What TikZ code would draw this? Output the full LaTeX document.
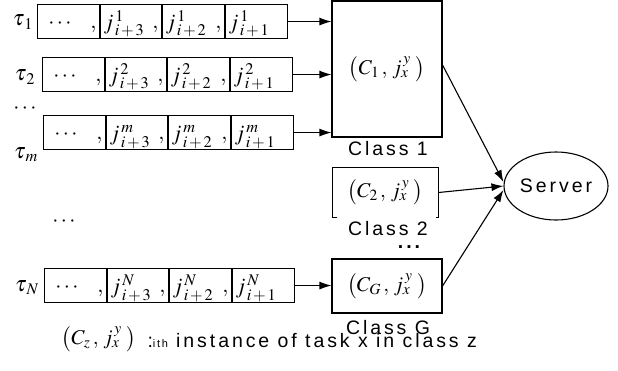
\documentclass[tikz,border=0pt]{standalone}
\usepackage[no-math]{fontspec}
\usepackage{mathptmx}
\setmainfont{Liberation Serif}
\newfontfamily\clsfont{Liberation Sans}[LetterSpace=15]
\usetikzlibrary{arrows.meta, shapes.geometric, positioning}

\begin{document}
\begin{tikzpicture}[x=1pt, y=-1pt, >={Latex[length=12pt,width=8pt]}, line width=1.1pt,
    queue/.style={draw, minimum width=250pt, minimum height=34pt, inner sep=0pt, anchor=north west},
    cell/.style={inner sep=0pt, font=\fontsize{22}{24}\selectfont},
    clsbox/.style={minimum width=110pt, inner sep=0pt, font=\fontsize{21}{23}\selectfont},
    clslabel/.style={inner sep=0pt, font=\clsfont\fontsize{19.5}{20}\selectfont}]

    % =================================================================
    % 1. KHUNG HINH
    % =================================================================
    \useasboundingbox (0,0) rectangle (618,370);

    % =================================================================
    % 2. CAC HANG DOI TAC VU (tau_1, tau_2, tau_m, tau_N)
    % =================================================================
    \foreach \nm/\lx/\ty/\sp in {r1/37/4/1, r2/42/57/2, rm/43/115/m, rN/44/268/N} {
        \node[queue] (\nm) at (\lx,\ty) {};
        % cac vach ngan
        \foreach \d in {63,125,188}
            \draw ([xshift=\d pt]\nm.north west) -- ([xshift=\d pt]\nm.south west);
        % noi dung tung o
        \node[cell, anchor=base] at ([xshift=23pt, yshift=-7pt]\nm.west) {$\cdots$};
        \foreach \d/\k in {63/3, 125/2, 188/1}
            \node[cell, anchor=base west] at ([xshift=\d pt+3pt, yshift=-8pt]\nm.west)
                {$j^{\,\sp}_{\,i\,+\,\k}$};
        \foreach \d in {63,125,188}
            \node[cell, anchor=base east] at ([xshift=\d pt-3pt, yshift=-7pt]\nm.west) {$,$};
    }

    % nhan ten cac hang doi
    \node[cell] (t1) at (23,22) {$\tau_{\,1}$};
    \node[cell] (t2) at (25,77) {$\tau_{\,2}$};
    \node[cell] (tdots) at (25,109) {$\cdots$};
    \node[cell] (tm) at (26,155) {$\tau_{\,m}$};
    \node[cell] (tN) at (27,288) {$\tau_{\,N}$};
    \node[cell] (mdots) at (64,222) {$\cdots$};

    % =================================================================
    % 3. CAC LOP (Class 1, Class 2, Class G)
    % =================================================================
    \node[clsbox, draw, minimum height=136pt] (c1) at (387,69) {$\bigl(C_{1}\,,\, j^{\,y}_{x}\;\bigr)$};
    \node[clsbox, minimum width=105pt, minimum height=49pt] (c2) at (385.5,192.5) {$\bigl(C_{2}\,,\, j^{\,y}_{x}\;\bigr)$};
    \node[clsbox, draw, minimum height=54pt] (cG) at (387,286) {$\bigl(C_{G}\,,\, j^{\,y}_{x}\;\bigr)$};

    % khung hinh ngoac cua Class 2
    \draw ([xshift=5pt]c2.south west) -- (c2.south west) -- (c2.north west)
        -- (c2.north east) -- (c2.south east) -- ([xshift=-3pt]c2.south east);

    \node[clslabel] (l1) at (388,149) {Class 1};
    \node[clslabel] (l2) at (388,229) {Class 2};
    \node[clslabel, font=\clsfont\bfseries\fontsize{19.5}{20}\selectfont] (ldots) at (409,247) {...};
    \node[clslabel] (lG) at (388,328) {Class G};

    % =================================================================
    % 4. MAY CHU (Server)
    % =================================================================
    \node[clslabel, draw, ellipse, minimum width=104pt, minimum height=68pt] (srv) at (556,186) {Server};

    % =================================================================
    % 5. CAC MUI TEN
    % =================================================================
    \draw[->] (r1.east) -- (r1.east -| c1.west);
    \draw[->] (r2.east) -- (r2.east -| c1.west);
    \draw[->] (rm.east) -- (rm.east -| c1.west);
    \draw[->] (rN.east) -- (rN.east -| cG.west);

    \draw[->] ([yshift=4pt]c1.east) -- ([yshift=4pt]srv.west);
    \draw[->] (c2.east) -- (srv.west);
    \draw[->] (cG.east) -- ([yshift=-4pt]srv.west);

    % =================================================================
    % 6. CHU THICH
    % =================================================================
    \node[cell, font=\fontsize{21}{23}\selectfont] (lgd) at (99,339) {$\bigl(C_{z}\,,\, j^{\,y}_{x}\;\bigr)$};
    \node[clslabel, anchor=base west] (lgdtxt) at (147,347)
        {:{\fontsize{11}{11}\selectfont ith} instance of task x in class z};

\end{tikzpicture}
\end{document}
